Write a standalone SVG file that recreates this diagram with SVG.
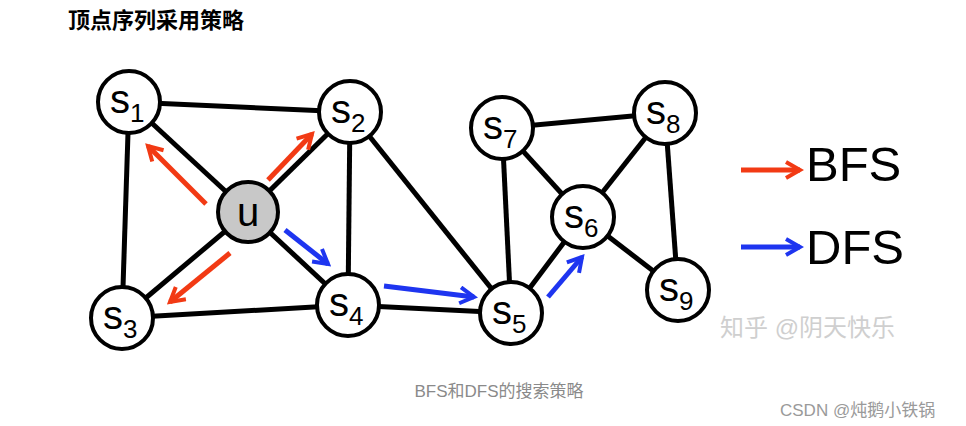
<svg xmlns="http://www.w3.org/2000/svg" width="966" height="426" viewBox="0 0 966 426">
<style>
.e{stroke:#000;stroke-width:5;fill:none}
.n{fill:#fff;stroke:#000;stroke-width:4}
.t{font-family:"Liberation Sans",Arial,sans-serif;font-size:40px;fill:#000}
.s{font-size:26px}
.r{stroke:#f23a14;stroke-width:5;fill:none;marker-end:url(#mr)}
.b{stroke:#1e35f0;stroke-width:5;fill:none;marker-end:url(#mb)}
.cj{font-family:"Liberation Sans","Noto Sans CJK SC",sans-serif}
</style>
<defs>
<marker id="mr" viewBox="0 0 10 10" refX="8" refY="5" markerWidth="4" markerHeight="4" orient="auto" markerUnits="strokeWidth"><path d="M1,1 L8,5 L1,9" fill="none" stroke="#f23a14" stroke-width="2"/></marker>
<marker id="mb" viewBox="0 0 10 10" refX="8" refY="5" markerWidth="4" markerHeight="4" orient="auto" markerUnits="strokeWidth"><path d="M1,1 L8,5 L1,9" fill="none" stroke="#1e35f0" stroke-width="2"/></marker>
</defs>
<rect width="966" height="426" fill="#fff"/>
<text x="68" y="28" class="cj" font-size="22" font-weight="bold" fill="#000">顶点序列采用策略</text>
<g id="edges">
<line class="e" x1="129" y1="102" x2="350" y2="112"/>
<line class="e" x1="129" y1="102" x2="122" y2="318"/>
<line class="e" x1="129" y1="102" x2="248" y2="212"/>
<line class="e" x1="248" y1="212" x2="350" y2="112"/>
<line class="e" x1="248" y1="212" x2="122" y2="318"/>
<line class="e" x1="248" y1="212" x2="348" y2="305"/>
<line class="e" x1="350" y1="112" x2="348" y2="305"/>
<line class="e" x1="350" y1="112" x2="511" y2="313"/>
<line class="e" x1="122" y1="318" x2="348" y2="305"/>
<line class="e" x1="348" y1="305" x2="511" y2="313"/>
<line class="e" x1="511" y1="313" x2="502" y2="128"/>
<line class="e" x1="511" y1="313" x2="583" y2="217"/>
<line class="e" x1="502" y1="128" x2="665" y2="113"/>
<line class="e" x1="502" y1="128" x2="583" y2="217"/>
<line class="e" x1="665" y1="113" x2="583" y2="217"/>
<line class="e" x1="665" y1="113" x2="678" y2="290"/>
<line class="e" x1="583" y1="217" x2="678" y2="290"/>
</g>
<g id="arrows">
<line class="r" x1="206" y1="204" x2="148" y2="146"/>
<line class="r" x1="268" y1="180" x2="312" y2="134"/>
<line class="r" x1="230" y1="253" x2="170" y2="302"/>
<line class="b" x1="285" y1="230" x2="328" y2="264"/>
<line class="b" x1="384" y1="286" x2="474" y2="297"/>
<line class="b" x1="548" y1="297" x2="582" y2="257"/>
<line class="r" x1="741" y1="170" x2="800" y2="170"/>
<line class="b" x1="741" y1="247" x2="800" y2="247"/>
</g>
<g id="s1"><circle class="n" cx="129" cy="102" r="31"/><text class="t" x="110" y="113">s<tspan class="s" dy="9">1</tspan></text></g>
<g id="s2"><circle class="n" cx="350" cy="112" r="31"/><text class="t" x="331" y="123">s<tspan class="s" dy="9">2</tspan></text></g>
<g id="u"><circle class="n" cx="248" cy="212" r="30" style="fill:#c8c8c8"/><text class="t" x="248" y="226" text-anchor="middle">u</text></g>
<g id="s3"><circle class="n" cx="122" cy="318" r="31"/><text class="t" x="103" y="329">s<tspan class="s" dy="9">3</tspan></text></g>
<g id="s4"><circle class="n" cx="348" cy="305" r="31"/><text class="t" x="329" y="316">s<tspan class="s" dy="9">4</tspan></text></g>
<g id="s5"><circle class="n" cx="511" cy="313" r="31"/><text class="t" x="492" y="324">s<tspan class="s" dy="9">5</tspan></text></g>
<g id="s7"><circle class="n" cx="502" cy="128" r="31"/><text class="t" x="483" y="139">s<tspan class="s" dy="9">7</tspan></text></g>
<g id="s8"><circle class="n" cx="665" cy="113" r="31"/><text class="t" x="646" y="124">s<tspan class="s" dy="9">8</tspan></text></g>
<g id="s6"><circle class="n" cx="583" cy="217" r="31"/><text class="t" x="564" y="228">s<tspan class="s" dy="9">6</tspan></text></g>
<g id="s9"><circle class="n" cx="678" cy="290" r="31"/><text class="t" x="659" y="301">s<tspan class="s" dy="9">9</tspan></text></g>
<g id="legend">
<text class="t" x="806" y="181" style="font-size:49px">BFS</text>
<text class="t" x="806" y="264" style="font-size:49px">DFS</text>
</g>
<text x="720" y="336" class="cj" font-size="24" fill="#cfcfcf">知乎 @阴天快乐</text>
<text x="499" y="397" class="cj" font-size="17" fill="#8a8a8a" text-anchor="middle">BFS和DFS的搜索策略</text>
<text x="780" y="416" class="cj" font-size="17" fill="#9a9a9a">CSDN @炖鹅小铁锅</text>
</svg>
